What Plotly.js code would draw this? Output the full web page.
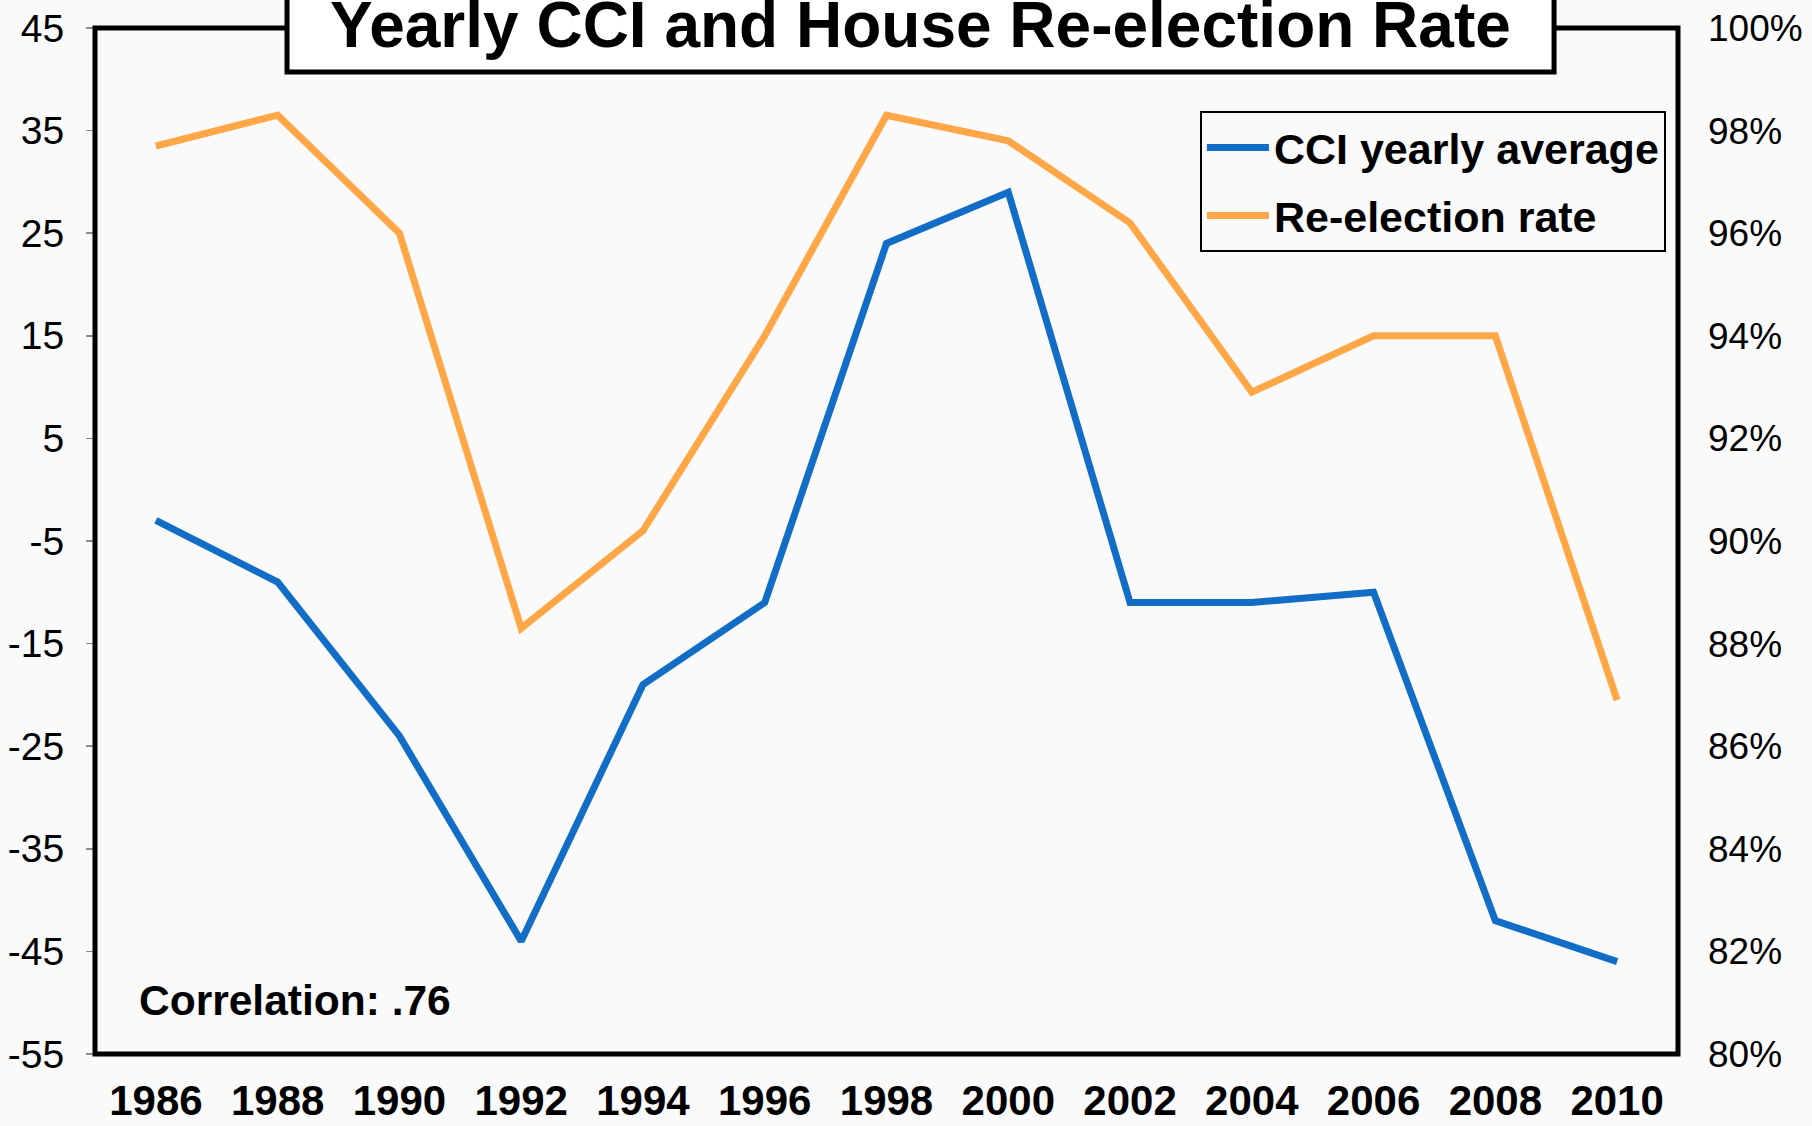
<!DOCTYPE html>
<html>
<head>
<meta charset="utf-8">
<script src="https://cdn.plot.ly/plotly-3.0.1.min.js"></script>
<style>html,body{margin:0;padding:0;background:#fafafa;}#chart{width:1812px;height:1126px;}</style>
</head>
<body>
<div id="chart"></div>
<script>
const years = ['1986','1988','1990','1992','1994','1996','1998','2000','2002','2004','2006','2008','2010'];
const cciYearlyAverage = [-3, -9, -24, -44, -19, -11, 24, 29, -11, -11, -10, -42, -46];
const reelectionRate = [0.977, 0.983, 0.960, 0.883, 0.902, 0.940, 0.983, 0.978, 0.962, 0.929, 0.940, 0.940, 0.869];
const leftTicks = [45, 35, 25, 15, 5, -5, -15, -25, -35, -45, -55];
const rightTicks = [0.80, 0.82, 0.84, 0.86, 0.88, 0.90, 0.92, 0.94, 0.96, 0.98, 1.00];

const FONT = 'Liberation Sans, Arial, sans-serif';
const traces = [
  {x: years, y: cciYearlyAverage, type: 'scatter', mode: 'lines', name: 'CCI yearly average',
   line: {color: '#116DC6', width: 7}, yaxis: 'y', legendgroup: 'a'},
  {x: years, y: reelectionRate, type: 'scatter', mode: 'lines', name: 'Re-election rate',
   line: {color: '#FFA647', width: 7}, yaxis: 'y2', legendgroup: 'b'}
];
const layout = {
  width: 1812, height: 1126,
  margin: {l: 95, r: 134, t: 28, b: 72},
  paper_bgcolor: '#fafafa', plot_bgcolor: '#fafafa',
  font: {family: FONT, color: '#000'},
  showlegend: true,
  legend: {x: 0.698, y: 0.919, xanchor: 'left', yanchor: 'top',
    bgcolor: 'rgba(0,0,0,0)', bordercolor: '#000', borderwidth: 2,
    font: {family: FONT, size: 43, color: '#000', weight: 'bold'},
    traceorder: 'grouped', tracegroupgap: 9, itemwidth: 62},
  xaxis: {type: 'category', range: [-0.5, 12.5], showgrid: false, zeroline: false,
    showline: false, ticks: '', tickfont: {family: FONT, size: 42, weight: 'bold'},
    ticklabelstandoff: 18, fixedrange: true},
  yaxis: {range: [-55, 45], tickvals: leftTicks, ticktext: leftTicks.map(String),
    showgrid: false, zeroline: false, showline: false, ticks: 'outside', ticklen: 8,
    tickcolor: '#8c8c8c', tickwidth: 1.5, tickfont: {family: FONT, size: 39},
    ticklabelstandoff: 14},
  yaxis2: {range: [0.80, 1.00], tickvals: rightTicks, tickformat: '.0%', overlaying: 'y', side: 'right',
    showgrid: false, zeroline: false, showline: false, ticks: '',
    tickfont: {family: FONT, size: 37}, ticklabelstandoff: 29},
  shapes: [
    {type: 'rect', xref: 'paper', yref: 'paper', x0: 0, x1: 1, y0: 0, y1: 1,
     line: {color: '#000', width: 5}, fillcolor: 'rgba(0,0,0,0)', layer: 'above'},
    {type: 'rect', xref: 'paper', yref: 'paper', x0: 0.1213, x1: 0.9217, y0: 0.957, y1: 1.045,
     line: {color: '#000', width: 5}, fillcolor: '#ffffff', layer: 'above'}
  ],
  annotations: [
    {text: '<b>Yearly CCI and House Re-election Rate</b>', xref: 'paper', yref: 'paper',
     x: 0.5215, y: 1.003, xanchor: 'center', yanchor: 'middle', showarrow: false,
     font: {family: FONT, size: 64, color: '#000'}},
    {text: '<b>Correlation: .76</b>', xref: 'paper', yref: 'paper',
     x: 0.0268, y: 0.0517, xanchor: 'left', yanchor: 'middle', showarrow: false,
     font: {family: FONT, size: 42.5, color: '#000'}}
  ]
};
Plotly.newPlot('chart', traces, layout, {displayModeBar: false, staticPlot: true});
</script>
</body>
</html>
